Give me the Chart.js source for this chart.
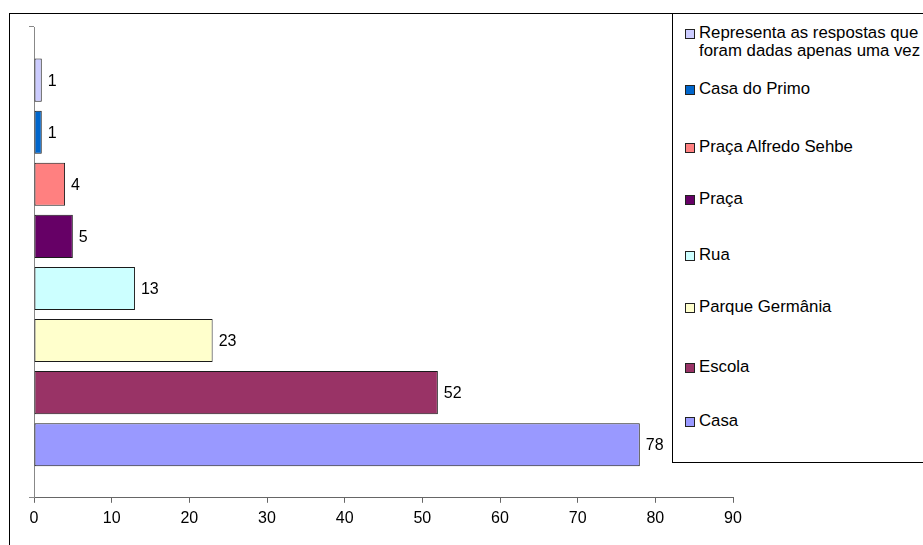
<!DOCTYPE html>
<html>
<head>
<meta charset="utf-8">
<script src="https://cdn.jsdelivr.net/npm/chart.js@4/dist/chart.umd.min.js"></script>
<style>
  body { margin: 0; background: #fff; }
  #wrap { position: relative; width: 923px; height: 545px; overflow: hidden; }
  #localChart { position: absolute; left: 0; top: 0; }
  #legendBox {
    position: absolute; left: 672px; top: 13px; width: 300px; height: 450px;
    border: 1px solid #000; background: #fff; box-sizing: border-box;
    font-family: "Liberation Sans", Arial, sans-serif; font-size: 16.8px; color: #000;
  }
  .item { position: absolute; left: 12px; display: flex; align-items: flex-start; line-height: 18px; }
  .swatch { width: 8px; height: 8px; border: 1px solid #222; margin: 5px 4px 0 0; flex: none; }
</style>
</head>
<body>
<div id="wrap">
  <canvas id="localChart" width="923" height="545"></canvas>
  <div id="legendBox"></div>
</div>
<script>
// Places named in the answers and how many times each was given
var placeNames = [
  ['Representa as respostas que', 'foram dadas apenas uma vez'],
  'Casa do Primo',
  'Praça Alfredo Sehbe',
  'Praça',
  'Rua',
  'Parque Germânia',
  'Escola',
  'Casa'
];
var answerCounts = [1, 1, 4, 5, 13, 23, 52, 78];
var barColors = ['#CCCCFF', '#0066CC', '#FF8080', '#660066', '#CCFFFF', '#FFFFCC', '#993366', '#9999FF'];
var xTicks = [0, 10, 20, 30, 40, 50, 60, 70, 80, 90];

// legend row tops inside the box
var legendRows = [10, 66, 124, 176, 232, 284, 344, 398];

// Build one dataset per place so every bar gets its own legend entry
var datasets = [];
for (var i = 0; i < placeNames.length; i++) {
  datasets.push({
    label: Array.isArray(placeNames[i]) ? placeNames[i].join(' ') : placeNames[i],
    data: [answerCounts[i]],
    backgroundColor: barColors[i],
    borderColor: '#1a1a1a',
    borderWidth: 1,
    borderSkipped: false,
    categoryPercentage: 0.885,
    barPercentage: 0.827
  });
}

// Number printed at the end of each bar
var valueLabels = {
  id: 'valueLabels',
  afterDatasetsDraw: function(chart) {
    var ctx = chart.ctx;
    ctx.save();
    ctx.font = '16px "Liberation Sans", Arial, sans-serif';
    ctx.fillStyle = '#000';
    ctx.textBaseline = 'middle';
    chart.data.datasets.forEach(function(ds, i) {
      var bar = chart.getDatasetMeta(i).data[0];
      ctx.fillText(String(ds.data[0]), bar.x + 6, bar.y + 1);
    });
    ctx.restore();
  }
};

// Outer frame around the whole chart
var chartFrame = {
  id: 'chartFrame',
  beforeDraw: function(chart) {
    var ctx = chart.ctx;
    ctx.save();
    ctx.strokeStyle = '#000';
    ctx.lineWidth = 1;
    ctx.strokeRect(9.5, 13.5, 1000, 600);
    ctx.restore();
  }
};

var ctx = document.getElementById('localChart').getContext('2d');
var localChart = new Chart(ctx, {
  type: 'bar',
  data: { labels: [''], datasets: datasets },
  plugins: [chartFrame, valueLabels],
  options: {
    indexAxis: 'y',
    responsive: false,
    animation: false,
    layout: { padding: { left: 29, right: 190, top: 27, bottom: 11 } },
    plugins: { legend: { display: false }, tooltip: { enabled: false } },
    scales: {
      x: {
        min: 0,
        max: 90,
        afterBuildTicks: function(axis) {
          axis.ticks = xTicks.map(function(v) { return { value: v }; });
        },
        grid: { drawOnChartArea: false, tickLength: 5, color: '#666' },
        border: { color: '#666' },
        ticks: {
          color: '#000',
          padding: 6,
          maxRotation: 0,
          font: { family: '"Liberation Sans", Arial, sans-serif', size: 16 }
        }
      },
      y: {
        grid: { drawOnChartArea: false, tickLength: 5, color: '#888', offset: true },
        border: { color: '#888' },
        ticks: { display: false }
      }
    }
  }
});

// Legend entries in the box on the right
var legendBox = document.getElementById('legendBox');
for (var j = 0; j < placeNames.length; j++) {
  var item = document.createElement('div');
  item.className = 'item';
  item.style.top = legendRows[j] + 'px';
  var swatch = document.createElement('span');
  swatch.className = 'swatch';
  swatch.style.background = barColors[j];
  var text = document.createElement('span');
  text.innerHTML = Array.isArray(placeNames[j]) ? placeNames[j].join('<br>') : placeNames[j];
  item.appendChild(swatch);
  item.appendChild(text);
  legendBox.appendChild(item);
}
</script>
</body>
</html>
